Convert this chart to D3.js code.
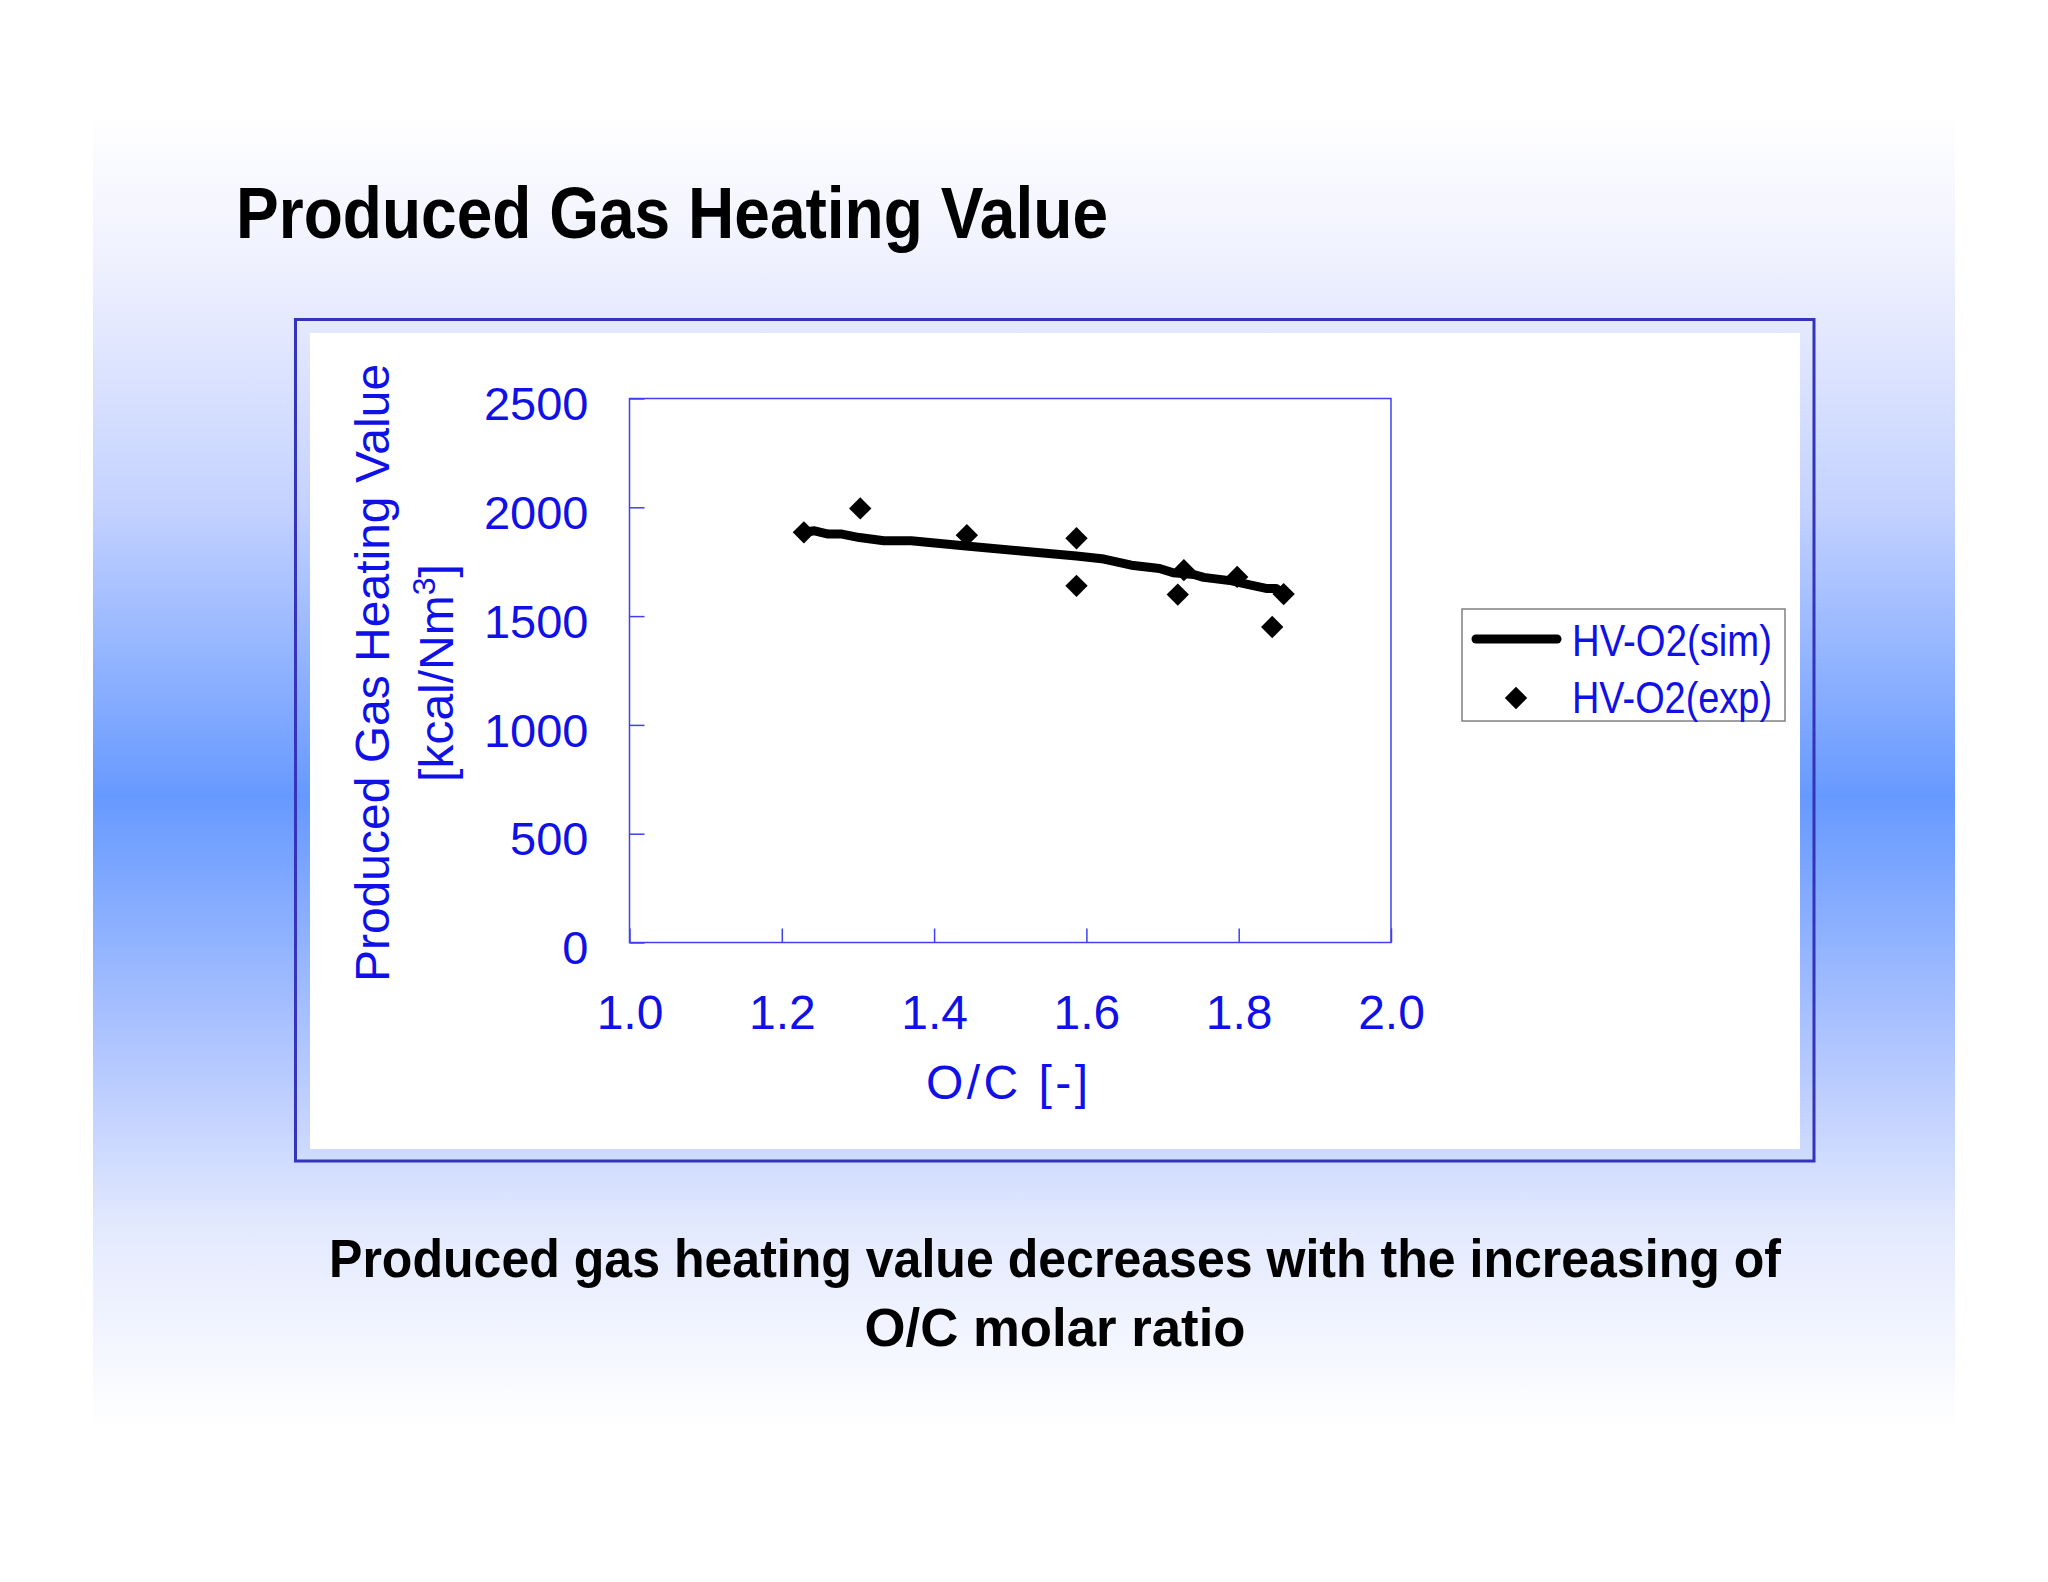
<!DOCTYPE html>
<html>
<head>
<meta charset="utf-8">
<script src="https://cdn.jsdelivr.net/npm/d3@7"></script>
<style>
  body { margin: 0; background: #fff; }
  svg { display: block; }
</style>
</head>
<body>
<svg id="chart"></svg>
<script>
// simulated curve (O/C, kcal/Nm3)
const oc_sim = [1.229, 1.243, 1.261, 1.279, 1.302, 1.334, 1.370, 1.442, 1.514, 1.587, 1.623,
                1.659, 1.696, 1.714, 1.741, 1.754, 1.791, 1.813, 1.836, 1.849, 1.859];
const hv_sim = [1885, 1892, 1877, 1877, 1861, 1846, 1846, 1822, 1799, 1776, 1762,
                1734, 1719, 1699, 1691, 1678, 1662, 1645, 1627, 1627, 1601];

// experimental points
const oc_exp = [1.229, 1.303, 1.443, 1.587, 1.587, 1.720, 1.728, 1.798, 1.844, 1.859];
const hv_exp = [1885, 1995, 1872, 1858, 1639, 1599, 1711, 1680, 1450, 1601];

const x_ticks = [1.0, 1.2, 1.4, 1.6, 1.8, 2.0];
const y_ticks = [0, 500, 1000, 1500, 2000, 2500];
const series_names = ['HV-O2(sim)', 'HV-O2(exp)'];

const W = 2048, H = 1582;
const blue = '#1010e8';
const axis_col = '#4040ee';
const narrow = '"Liberation Sans Narrow", "Arial Narrow", "Liberation Sans", Arial, sans-serif';
const sans = '"Liberation Sans", Arial, sans-serif';

const svg = d3.select('#chart')
      .attr('width', W)
      .attr('height', H);

// background panel with vertical gradient
const grad = svg.append('defs').append('linearGradient')
      .attr('id', 'bg')
      .attr('x1', 0).attr('y1', 0).attr('x2', 0).attr('y2', 1);
grad.selectAll('stop')
      .data([[0, '#ffffff'], [0.12, '#eef0fe'], [0.3, '#c4d2ff'], [0.52, '#6699ff'],
             [0.72, '#b4c8ff'], [0.85, '#e4eafe'], [1, '#ffffff']])
      .join('stop')
      .attr('offset', d => d[0])
      .attr('stop-color', d => d[1]);

svg.append('rect')
      .attr('x', 93).attr('y', 110)
      .attr('width', 1862).attr('height', 1320)
      .attr('fill', 'url(#bg)');

// title
svg.append('text')
      .attr('x', 236).attr('y', 238)
      .attr('font-family', narrow)
      .attr('font-weight', 'bold')
      .attr('font-size', 72)
      .attr('textLength', 872)
      .attr('lengthAdjust', 'spacingAndGlyphs')
      .text('Produced Gas Heating Value');

// chart box
svg.append('rect')
      .attr('x', 295.5).attr('y', 319.5)
      .attr('width', 1518.5).attr('height', 841.5)
      .attr('fill', 'none')
      .attr('stroke', '#3333bb')
      .attr('stroke-width', 3);
svg.append('rect')
      .attr('x', 310).attr('y', 333)
      .attr('width', 1490).attr('height', 816)
      .attr('fill', '#ffffff');

// scales
const xscale = d3.scaleLinear().domain([1, 2]).range([629.5, 1391]);
const yscale = d3.scaleLinear().domain([0, 2500]).range([942.5, 398.5]);

// plot frame
svg.append('rect')
      .attr('x', xscale(1)).attr('y', yscale(2500))
      .attr('width', xscale(2) - xscale(1))
      .attr('height', yscale(0) - yscale(2500))
      .attr('fill', 'none')
      .attr('stroke', axis_col)
      .attr('stroke-width', 1.5);

const xaxis = d3.axisBottom(xscale)
      .tickValues(x_ticks)
      .tickFormat(d3.format('.1f'))
      .tickSizeInner(-14)
      .tickSizeOuter(0)
      .tickPadding(52);

const yaxis = d3.axisLeft(yscale)
      .tickValues(y_ticks)
      .tickFormat(d3.format('d'))
      .tickSizeInner(-15)
      .tickSizeOuter(0)
      .tickPadding(41);

svg.append('g')
      .attr('transform', `translate(0, ${yscale(0)})`)
      .call(xaxis)
      .call(g => g.select('.domain').remove())
      .call(g => g.selectAll('.tick line').attr('stroke', axis_col).attr('stroke-width', 1.5))
      .call(g => g.selectAll('.tick text')
            .attr('fill', blue)
            .attr('font-family', sans)
            .attr('font-size', 48));

svg.append('g')
      .attr('transform', `translate(${xscale(1)}, 0)`)
      .call(yaxis)
      .call(g => g.select('.domain').remove())
      .call(g => g.selectAll('.tick line').attr('stroke', axis_col).attr('stroke-width', 1.5))
      .call(g => g.selectAll('.tick text')
            .attr('fill', blue)
            .attr('font-family', sans)
            .attr('font-size', 47)
            .attr('dy', '0.45em'));

// axis titles
svg.append('text')
      .attr('transform', 'translate(1007, 1099)')
      .attr('text-anchor', 'middle')
      .attr('fill', blue)
      .attr('font-family', sans)
      .attr('font-size', 48)
      .attr('textLength', 162)
      .attr('lengthAdjust', 'spacing')
      .text('O/C [-]');

svg.append('text')
      .attr('transform', 'translate(389, 673) rotate(-90)')
      .attr('text-anchor', 'middle')
      .attr('fill', blue)
      .attr('font-family', sans)
      .attr('font-size', 48)
      .text('Produced Gas Heating Value');

const ylab2 = svg.append('text')
      .attr('transform', 'translate(453, 673) rotate(-90)')
      .attr('text-anchor', 'middle')
      .attr('fill', blue)
      .attr('font-family', sans)
      .attr('font-size', 48);
ylab2.append('tspan').text('[kcal/Nm');
ylab2.append('tspan').attr('font-size', 32).attr('dy', -18).text('3');
ylab2.append('tspan').attr('dy', 18).text(']');

// simulated line
const sim = oc_sim.map((d, i) => ({x: d, y: hv_sim[i]}));
const line = d3.line()
      .x(d => xscale(d.x))
      .y(d => yscale(d.y));

svg.append('path')
      .datum(sim)
      .attr('d', line)
      .attr('fill', 'none')
      .attr('stroke', '#000')
      .attr('stroke-width', 9)
      .attr('stroke-linejoin', 'round')
      .attr('stroke-linecap', 'round');

// experimental diamonds
const exp = oc_exp.map((d, i) => ({x: d, y: hv_exp[i]}));
const diamond = d3.symbol().type(d3.symbolSquare).size(250);

svg.append('g')
      .selectAll('path')
      .data(exp)
      .join('path')
      .attr('d', diamond)
      .attr('transform', d => `translate(${xscale(d.x)}, ${yscale(d.y)}) rotate(45)`)
      .attr('fill', '#000');

// legend
const legend = svg.append('g');
legend.append('rect')
      .attr('x', 1462).attr('y', 609)
      .attr('width', 323).attr('height', 112)
      .attr('fill', '#fff')
      .attr('stroke', '#808080')
      .attr('stroke-width', 1.5);
legend.append('line')
      .attr('x1', 1476).attr('x2', 1557)
      .attr('y1', 639).attr('y2', 639)
      .attr('stroke', '#000')
      .attr('stroke-width', 9)
      .attr('stroke-linecap', 'round');
legend.append('path')
      .attr('d', diamond)
      .attr('transform', 'translate(1516, 698) rotate(45)')
      .attr('fill', '#000');
legend.selectAll('text.lg')
      .data(series_names)
      .join('text')
      .attr('class', 'lg')
      .attr('x', 1572)
      .attr('y', (d, i) => 656 + i * 57)
      .attr('fill', blue)
      .attr('font-family', sans)
      .attr('font-size', 44)
      .attr('textLength', 200)
      .attr('lengthAdjust', 'spacingAndGlyphs')
      .text(d => d);

// caption
const caption = ['Produced gas heating value decreases with the increasing of', 'O/C molar ratio'];
const cap_len = [1452, 381];
svg.selectAll('text.cap')
      .data(caption)
      .join('text')
      .attr('class', 'cap')
      .attr('x', 1055)
      .attr('y', (d, i) => 1277 + i * 69)
      .attr('text-anchor', 'middle')
      .attr('font-family', narrow)
      .attr('font-weight', 'bold')
      .attr('font-size', 54)
      .attr('textLength', (d, i) => cap_len[i])
      .attr('lengthAdjust', 'spacingAndGlyphs')
      .text(d => d);
</script>
</body>
</html>
